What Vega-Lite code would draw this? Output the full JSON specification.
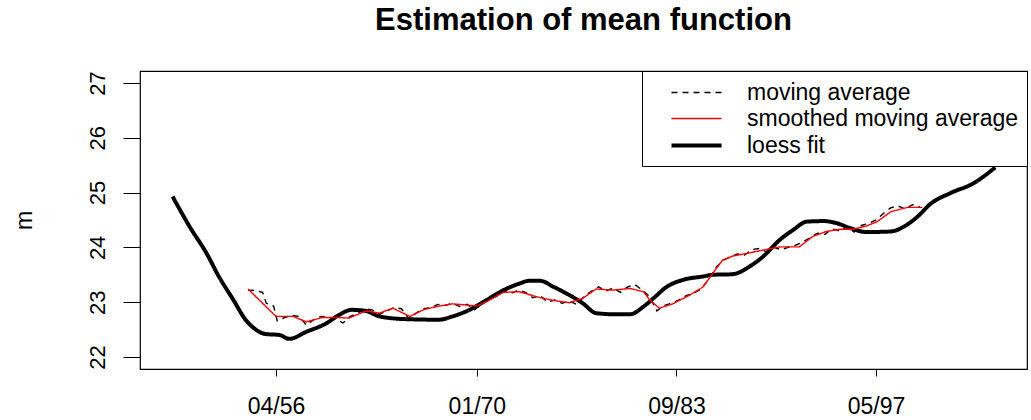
{
  "$schema": "https://vega.github.io/schema/vega-lite/v6.json",
  "width": 887,
  "height": 298,
  "autosize": "none",
  "padding": {"left": 140, "top": 71, "right": 4, "bottom": 51},
  "background": "white",
  "title": {
    "text": "Estimation of mean function",
    "fontSize": 31,
    "fontWeight": "bold",
    "font": "Liberation Sans",
    "color": "black",
    "anchor": "middle",
    "baseline": "alphabetic",
    "offset": 10
  },
  "config": {
    "font": "Liberation Sans",
    "view": {"stroke": "black", "strokeWidth": 1.2},
    "legend": {
      "title": null,
      "orient": "top-right",
      "offset": 0,
      "strokeColor": "black",
      "fillColor": "white",
      "padding": 8,
      "symbolType": "M-2,0L2,0",
      "symbolSize": 625,
      "symbolOffset": 32,
      "labelOffset": 36,
      "labelFontSize": 23,
      "labelColor": "black",
      "labelLimit": 600,
      "rowPadding": -1
    }
  },
  "datasets": {
    "ma": [
      {"date": "1954-05-01", "value": 23.22}, {"date": "1954-11-01", "value": 23.21},
      {"date": "1955-05-01", "value": 23.18}, {"date": "1955-08-01", "value": 22.98},
      {"date": "1956-02-01", "value": 22.93}, {"date": "1956-05-01", "value": 22.66},
      {"date": "1956-11-01", "value": 22.72}, {"date": "1957-05-01", "value": 22.76},
      {"date": "1957-11-01", "value": 22.74}, {"date": "1958-05-01", "value": 22.58},
      {"date": "1958-11-01", "value": 22.68}, {"date": "1959-05-01", "value": 22.74},
      {"date": "1959-11-01", "value": 22.72}, {"date": "1960-05-01", "value": 22.70},
      {"date": "1960-11-01", "value": 22.62}, {"date": "1961-05-01", "value": 22.74},
      {"date": "1961-11-01", "value": 22.80}, {"date": "1962-05-01", "value": 22.88},
      {"date": "1962-11-01", "value": 22.86}, {"date": "1963-05-01", "value": 22.78},
      {"date": "1963-11-01", "value": 22.84}, {"date": "1964-05-01", "value": 22.90},
      {"date": "1964-11-01", "value": 22.88}, {"date": "1965-05-01", "value": 22.70},
      {"date": "1965-11-01", "value": 22.80}, {"date": "1966-05-01", "value": 22.88},
      {"date": "1966-11-01", "value": 22.90}, {"date": "1967-05-01", "value": 22.96},
      {"date": "1967-11-01", "value": 22.94}, {"date": "1968-05-01", "value": 22.98},
      {"date": "1968-11-01", "value": 22.92}, {"date": "1969-05-01", "value": 22.96},
      {"date": "1969-11-01", "value": 22.86}, {"date": "1970-05-01", "value": 22.96},
      {"date": "1970-11-01", "value": 23.08}, {"date": "1971-05-01", "value": 23.10},
      {"date": "1971-11-01", "value": 23.20}, {"date": "1972-05-01", "value": 23.16},
      {"date": "1972-11-01", "value": 23.22}, {"date": "1973-05-01", "value": 23.18},
      {"date": "1973-11-01", "value": 23.08}, {"date": "1974-05-01", "value": 23.12},
      {"date": "1974-11-01", "value": 23.00}, {"date": "1975-05-01", "value": 23.04},
      {"date": "1975-11-01", "value": 22.98}, {"date": "1976-05-01", "value": 23.02},
      {"date": "1976-11-01", "value": 22.96}, {"date": "1977-05-01", "value": 23.10},
      {"date": "1977-11-01", "value": 23.20}, {"date": "1978-05-01", "value": 23.28},
      {"date": "1978-11-01", "value": 23.20}, {"date": "1979-05-01", "value": 23.26},
      {"date": "1979-11-01", "value": 23.18}, {"date": "1980-05-01", "value": 23.28},
      {"date": "1980-11-01", "value": 23.32}, {"date": "1981-05-01", "value": 23.22},
      {"date": "1981-11-01", "value": 23.10}, {"date": "1982-05-01", "value": 22.84},
      {"date": "1982-11-01", "value": 22.94}, {"date": "1983-05-01", "value": 22.98},
      {"date": "1983-11-01", "value": 23.04}, {"date": "1984-05-01", "value": 23.12},
      {"date": "1984-11-01", "value": 23.16}, {"date": "1985-05-01", "value": 23.24},
      {"date": "1985-11-01", "value": 23.40}, {"date": "1986-05-01", "value": 23.62},
      {"date": "1986-11-01", "value": 23.76}, {"date": "1987-05-01", "value": 23.82},
      {"date": "1987-11-01", "value": 23.88}, {"date": "1988-05-01", "value": 23.86},
      {"date": "1988-11-01", "value": 23.96}, {"date": "1989-05-01", "value": 23.98},
      {"date": "1989-11-01", "value": 23.92}, {"date": "1990-05-01", "value": 24.00},
      {"date": "1990-11-01", "value": 23.96}, {"date": "1991-05-01", "value": 24.00},
      {"date": "1991-11-01", "value": 24.04}, {"date": "1992-05-01", "value": 24.10},
      {"date": "1992-11-01", "value": 24.18}, {"date": "1993-05-01", "value": 24.26},
      {"date": "1993-11-01", "value": 24.24}, {"date": "1994-05-01", "value": 24.34},
      {"date": "1994-11-01", "value": 24.30}, {"date": "1995-05-01", "value": 24.38},
      {"date": "1995-11-01", "value": 24.28}, {"date": "1996-05-01", "value": 24.40},
      {"date": "1996-11-01", "value": 24.44}, {"date": "1997-05-01", "value": 24.50},
      {"date": "1997-11-01", "value": 24.62}, {"date": "1998-05-01", "value": 24.72},
      {"date": "1998-11-01", "value": 24.76}, {"date": "1999-05-01", "value": 24.70},
      {"date": "1999-11-01", "value": 24.78}, {"date": "2000-05-01", "value": 24.74}
    ],
    "sma": [
      {"date": "1954-05-01", "value": 23.24}, {"date": "1955-05-01", "value": 22.98},
      {"date": "1956-04-01", "value": 22.74}, {"date": "1957-06-01", "value": 22.74},
      {"date": "1958-05-01", "value": 22.64}, {"date": "1959-06-01", "value": 22.72},
      {"date": "1960-08-01", "value": 22.72}, {"date": "1961-04-01", "value": 22.71},
      {"date": "1962-06-01", "value": 22.84}, {"date": "1963-05-01", "value": 22.80},
      {"date": "1964-04-01", "value": 22.89}, {"date": "1965-06-01", "value": 22.74},
      {"date": "1966-05-01", "value": 22.86}, {"date": "1967-04-01", "value": 22.92},
      {"date": "1968-05-01", "value": 22.97}, {"date": "1970-01-01", "value": 22.93},
      {"date": "1970-09-01", "value": 23.01}, {"date": "1971-11-01", "value": 23.18},
      {"date": "1972-12-01", "value": 23.19}, {"date": "1974-02-01", "value": 23.10},
      {"date": "1975-04-01", "value": 23.03}, {"date": "1976-05-01", "value": 22.99},
      {"date": "1977-04-01", "value": 23.07}, {"date": "1978-03-01", "value": 23.24},
      {"date": "1979-05-01", "value": 23.22}, {"date": "1980-07-01", "value": 23.25},
      {"date": "1981-06-01", "value": 23.19}, {"date": "1981-11-01", "value": 23.04},
      {"date": "1982-07-01", "value": 22.89}, {"date": "1983-06-01", "value": 22.97},
      {"date": "1984-08-01", "value": 23.13}, {"date": "1985-07-01", "value": 23.28},
      {"date": "1986-03-01", "value": 23.53}, {"date": "1986-11-01", "value": 23.77},
      {"date": "1987-07-01", "value": 23.84}, {"date": "1988-09-01", "value": 23.90},
      {"date": "1989-08-01", "value": 23.95}, {"date": "1990-10-01", "value": 24.01},
      {"date": "1992-02-01", "value": 24.01}, {"date": "1993-01-01", "value": 24.20},
      {"date": "1993-12-01", "value": 24.29}, {"date": "1994-11-01", "value": 24.33},
      {"date": "1995-10-01", "value": 24.33}, {"date": "1996-09-01", "value": 24.39},
      {"date": "1997-06-01", "value": 24.47}, {"date": "1998-05-01", "value": 24.65},
      {"date": "1999-07-01", "value": 24.73}, {"date": "2000-07-01", "value": 24.73}
    ],
    "loess": [
      {"date": "1949-03-01", "value": 24.93}, {"date": "1950-05-01", "value": 24.38},
      {"date": "1951-07-01", "value": 23.89}, {"date": "1952-05-01", "value": 23.47},
      {"date": "1953-05-01", "value": 23.04}, {"date": "1954-03-01", "value": 22.68},
      {"date": "1954-12-01", "value": 22.49}, {"date": "1955-07-01", "value": 22.42},
      {"date": "1956-07-01", "value": 22.40}, {"date": "1957-03-01", "value": 22.33},
      {"date": "1958-05-01", "value": 22.46}, {"date": "1959-09-01", "value": 22.61},
      {"date": "1960-08-01", "value": 22.77}, {"date": "1961-06-01", "value": 22.86},
      {"date": "1962-06-01", "value": 22.84}, {"date": "1963-05-01", "value": 22.74},
      {"date": "1965-03-01", "value": 22.69}, {"date": "1967-06-01", "value": 22.68},
      {"date": "1968-05-01", "value": 22.74}, {"date": "1969-07-01", "value": 22.86},
      {"date": "1970-09-01", "value": 23.04}, {"date": "1971-11-01", "value": 23.22},
      {"date": "1972-12-01", "value": 23.34}, {"date": "1973-08-01", "value": 23.39},
      {"date": "1974-05-01", "value": 23.39}, {"date": "1975-04-01", "value": 23.28},
      {"date": "1976-05-01", "value": 23.13}, {"date": "1977-04-01", "value": 22.98},
      {"date": "1978-03-01", "value": 22.80}, {"date": "1979-05-01", "value": 22.78},
      {"date": "1980-07-01", "value": 22.78}, {"date": "1981-06-01", "value": 22.92},
      {"date": "1982-02-01", "value": 23.07}, {"date": "1983-01-01", "value": 23.28},
      {"date": "1984-03-01", "value": 23.41}, {"date": "1985-07-01", "value": 23.47},
      {"date": "1986-03-01", "value": 23.50}, {"date": "1987-07-01", "value": 23.51},
      {"date": "1988-09-01", "value": 23.65}, {"date": "1989-08-01", "value": 23.83},
      {"date": "1990-10-01", "value": 24.14}, {"date": "1991-09-01", "value": 24.32},
      {"date": "1992-08-01", "value": 24.47}, {"date": "1993-10-01", "value": 24.48},
      {"date": "1994-09-01", "value": 24.44}, {"date": "1995-08-01", "value": 24.35},
      {"date": "1996-09-01", "value": 24.28}, {"date": "1998-05-01", "value": 24.29},
      {"date": "1999-04-01", "value": 24.38}, {"date": "2000-03-01", "value": 24.56},
      {"date": "2001-02-01", "value": 24.80}, {"date": "2002-06-01", "value": 24.99},
      {"date": "2004-01-01", "value": 25.17}, {"date": "2005-07-01", "value": 25.46}
    ]
  },
  "encoding": {
    "x": {
      "field": "date",
      "type": "temporal",
      "scale": {"type": "utc", "domain": ["1946-12-08", "2007-09-02"], "nice": false},
      "axis": {
        "title": null,
        "values": ["1956-04-01", "1970-01-01", "1983-09-01", "1997-05-01"],
        "format": "%m/%y",
        "grid": false,
        "domain": false,
        "ticks": true,
        "tickColor": "black",
        "tickSize": 7,
        "tickWidth": 1,
        "labelFontSize": 23,
        "labelColor": "black",
        "labelPadding": 19,
        "labelFlush": false,
        "labelOverlap": false
      }
    },
    "y": {
      "field": "value",
      "type": "quantitative",
      "scale": {"domain": [21.78, 27.22], "nice": false, "zero": false},
      "axis": {
        "title": "m",
        "titleFontSize": 23,
        "titleFontWeight": "normal",
        "titleColor": "black",
        "titlePadding": 50,
        "values": [22, 23, 24, 25, 26, 27],
        "grid": false,
        "domain": false,
        "tickColor": "black",
        "tickSize": 17,
        "tickWidth": 1,
        "labelAngle": -90,
        "labelFontSize": 22,
        "labelColor": "black",
        "labelPadding": 14,
        "labelOverlap": false
      }
    },
    "color": {
      "field": "series",
      "type": "nominal",
      "scale": {
        "domain": ["moving average", "smoothed moving average", "loess fit"],
        "range": ["black", "red", "black"]
      }
    },
    "strokeDash": {
      "field": "series",
      "type": "nominal",
      "scale": {
        "domain": ["moving average", "smoothed moving average", "loess fit"],
        "range": [[6, 5], [1, 0], [1, 0]]
      }
    },
    "strokeWidth": {
      "field": "series",
      "type": "ordinal",
      "scale": {
        "type": "ordinal",
        "domain": ["moving average", "smoothed moving average", "loess fit"],
        "range": [1.4, 1.4, 4]
      }
    }
  },
  "layer": [
    {
      "data": {"name": "ma"},
      "transform": [{"calculate": "'moving average'", "as": "series"}],
      "mark": {"type": "line", "clip": true}
    },
    {
      "data": {"name": "loess"},
      "transform": [{"calculate": "'loess fit'", "as": "series"}],
      "mark": {"type": "line", "clip": true, "interpolate": "monotone"}
    },
    {
      "data": {"name": "sma"},
      "transform": [{"calculate": "'smoothed moving average'", "as": "series"}],
      "mark": {"type": "line", "clip": true}
    }
  ]
}
